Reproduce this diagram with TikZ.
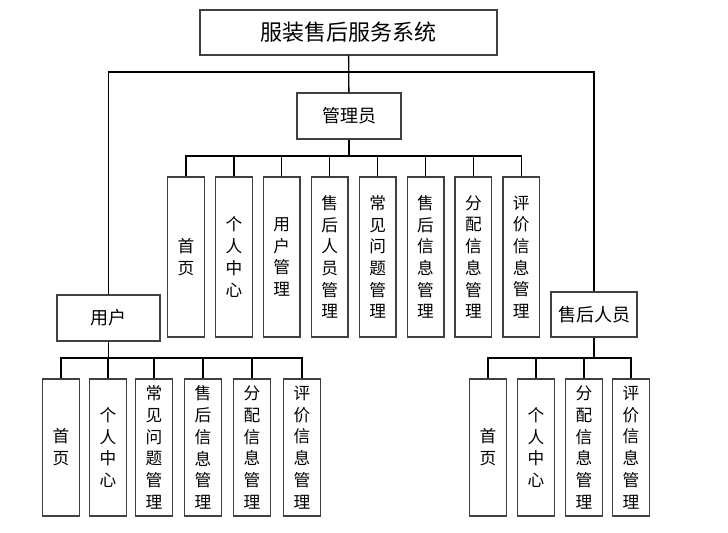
\documentclass[tikz,border=0pt]{standalone}
\usepackage{fontspec}
\setmainfont{Noto Sans CJK SC}
\usetikzlibrary{positioning}

\begin{document}
\begin{tikzpicture}[x=0.75pt,y=-0.75pt,
    box/.style={draw=black!75, line width=1, inner sep=0pt, fill=white},
    leaf/.style={box, minimum width=27.5pt, align=center,
      font=\fontsize{12.5}{16.3}\selectfont},
    link/.style={line width=1}]
  \useasboundingbox (0,0) rectangle (728,532);

  % Draw top boxes
  \node[box, minimum width=222.75pt, minimum height=33.75pt,
    font=\fontsize{16.5}{20}\selectfont] (sys) at (348.5,32.5) {服装售后服务系统};
  \node[box, minimum width=78pt, minimum height=34.5pt,
    font=\fontsize{13.5}{16}\selectfont] (adm) at (349,116) {管理员};
  \node[box, minimum width=77.25pt, minimum height=34.5pt,
    font=\fontsize{13.5}{16}\selectfont] (usr) at (108.5,318) {用户};
  \node[box, minimum width=64.5pt, minimum height=33.75pt,
    font=\fontsize{13.5}{16}\selectfont] (srv) at (594,314.5) {售后人员};

  % Trunk lines
  \coordinate (trunk) at (349,72);
  \draw[link] (sys) -- (adm);
  \draw[link] (usr.north) |- (trunk);
  \draw[link] (srv.north) |- (trunk);

  % Admin pages
  \coordinate (abus) at (349,156);
  \draw[link] (adm) -- (abus);
  \foreach \t [count=\i] in {{首\\页},{个\\人\\中\\心},{用\\户\\管\\理},
      {售\\后\\人\\员\\管\\理},{常\\见\\问\\题\\管\\理},{售\\后\\信\\息\\管\\理},
      {分\\配\\信\\息\\管\\理},{评\\价\\信\\息\\管\\理}} {
    \node[leaf, minimum height=120pt] (a\i) at ({186+47.9*(\i-1)},257) {\t};
    \draw[link] (a\i.north) |- (abus);
  }

  % User pages
  \coordinate (ubus) at (108.5,358);
  \draw[link] (usr) -- (ubus);
  \foreach \x/\t [count=\i] in {61/{首\\页},108/{个\\人\\中\\心},
      154/{常\\见\\问\\题\\管\\理},203/{售\\后\\信\\息\\管\\理},
      252/{分\\配\\信\\息\\管\\理},302/{评\\价\\信\\息\\管\\理}} {
    \node[leaf, minimum height=102.75pt] (u\i) at (\x,447.5) {\t};
    \draw[link] (u\i.north) |- (ubus);
  }

  % After-sales staff pages
  \coordinate (sbus) at (594,358);
  \draw[link] (srv) -- (sbus);
  \foreach \x/\t [count=\i] in {488/{首\\页},536/{个\\人\\中\\心},
      584/{分\\配\\信\\息\\管\\理},631/{评\\价\\信\\息\\管\\理}} {
    \node[leaf, minimum height=102.75pt] (s\i) at (\x,447.5) {\t};
    \draw[link] (s\i.north) |- (sbus);
  }
\end{tikzpicture}
\end{document}
